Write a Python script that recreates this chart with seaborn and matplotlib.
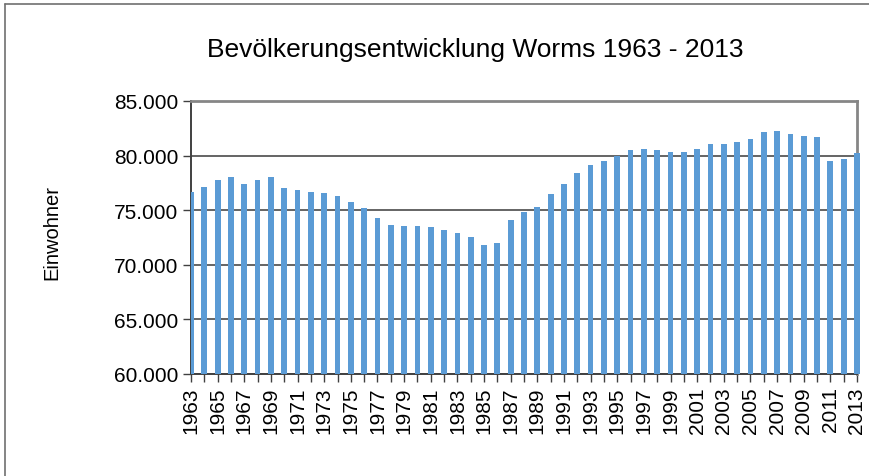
import matplotlib
matplotlib.use("Agg")
import matplotlib.pyplot as plt
import seaborn as sns
import pandas as pd
from matplotlib.lines import Line2D
from matplotlib.patches import Rectangle

years = list(range(1963, 2014))
einwohner = [
    76680, 77100, 77740, 78020, 77440, 77740, 78020, 77040, 76830, 76650,
    76590, 76310, 75730, 75210, 74330, 73690, 73510, 73570, 73480, 73230,
    72900, 72560, 71830, 72010, 74120, 74790, 75310, 76490, 77410, 78420,
    79150, 79480, 80000, 80490, 80610, 80490, 80340, 80340, 80610, 81100,
    81070, 81220, 81560, 82170, 82260, 81980, 81770, 81710, 79510, 79700,
    80240,
]
y_ticks = [60000, 65000, 70000, 75000, 80000, 85000]
y_tick_labels = ["60.000", "65.000", "70.000", "75.000", "80.000", "85.000"]
title = "Bevölkerungsentwicklung Worms 1963 - 2013"
y_label = "Einwohner"

df = pd.DataFrame({"Jahr": [str(y) for y in years], "Einwohner": einwohner})

sns.set_theme(style="white")
plt.rcParams["font.family"] = ["Liberation Sans", "DejaVu Sans"]
plt.rcParams["text.color"] = "black"
plt.rcParams["xtick.color"] = "#404040"
plt.rcParams["ytick.color"] = "#404040"
plt.rcParams["xtick.labelcolor"] = "black"
plt.rcParams["ytick.labelcolor"] = "black"

fig = plt.figure(figsize=(8.7, 4.77), dpi=100)
ax = fig.add_axes([191 / 870, 1 - 375 / 477, (857 - 191) / 870, (375 - 102) / 477])

sns.barplot(data=df, x="Jahr", y="Einwohner", color="#5B9BD5", saturation=1,
            width=0.43, ax=ax, zorder=3)
for p in ax.patches:
    p.set_edgecolor("none")
clip = Rectangle((0, 0), 1.01, 1, transform=ax.transAxes)
ax.patches[-1].set_clip_path(clip)

ax.set_xlim(0, len(years) - 1)
ax.set_ylim(60000, 85000)
ax.set_yticks(y_ticks)
ax.set_yticklabels(y_tick_labels, fontsize=15)
ax.set_xticks(range(len(years)))
ax.set_xticklabels([str(y) if (y - 1963) % 2 == 0 else "" for y in years],
                   rotation=90, fontsize=15)
ax.set_xlabel("")
ax.set_ylabel("")

ax.grid(axis="y", color="#3a3a3a", linewidth=1.1, zorder=0)
ax.grid(axis="x", visible=False)
ax.set_axisbelow(True)

ax.tick_params(axis="both", which="major", direction="out", length=6, width=1,
               pad=3, bottom=True, left=True)

for side in ["left", "bottom"]:
    ax.spines[side].set_color("#404040")
    ax.spines[side].set_linewidth(1.4)
for side in ["top", "right"]:
    ax.spines[side].set_visible(True)
    ax.spines[side].set_color("#868686")
    ax.spines[side].set_linewidth(2.0)

fig.text(475 / 870, 1 - 50 / 477, title, fontsize=19, ha="center", va="center")
fig.text(52 / 870, 1 - 232 / 477, y_label, fontsize=14.5, rotation=90,
         ha="center", va="center")

fig.add_artist(Line2D([5 / 870, 1], [1 - 5 / 477, 1 - 5 / 477],
                      transform=fig.transFigure, color="#6f6f6f", linewidth=1.2))
fig.add_artist(Line2D([5 / 870, 5 / 870], [0, 1 - 5 / 477],
                      transform=fig.transFigure, color="#6f6f6f", linewidth=1.2))

fig.savefig("out.png", dpi=100)
